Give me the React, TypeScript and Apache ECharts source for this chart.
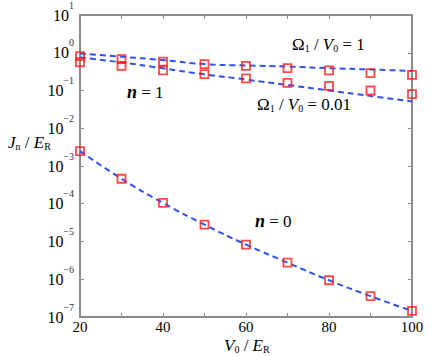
import React, { useEffect, useRef } from "react";
import * as echarts from "echarts";

const xValues = [20, 30, 40, 50, 60, 70, 80, 90, 100];
const ratio1Markers = [0.81, 0.68, 0.58, 0.5, 0.45, 0.39, 0.34, 0.29, 0.26];
const ratio1Fit = [0.96, 0.785, 0.64, 0.5, 0.46, 0.43, 0.39, 0.36, 0.33];
const ratio001Markers = [0.56, 0.45, 0.34, 0.27, 0.21, 0.16, 0.133, 0.1, 0.08];
const ratio001Fit = [0.75, 0.556, 0.386, 0.268, 0.195, 0.14, 0.1, 0.0716, 0.0514];
const n0Markers = [2.48e-3, 4.6e-4, 1.05e-4, 2.8e-5, 8.3e-6, 2.75e-6, 9.4e-7, 3.57e-7, 1.45e-7];
const n0Fit = [2.48e-3, 4.6e-4, 1.05e-4, 2.8e-5, 8.3e-6, 2.75e-6, 9.4e-7, 3.57e-7, 1.45e-7];

const SERIF = "'Times New Roman', 'Liberation Serif', serif";
const BLUE = "#2f52f0";
const RED = "#ff1a1a";
const AXIS = "#8c8c8c";

const pairs = (ys: number[]) => xValues.map((x, i) => [x, ys[i]]);

const fitSeries = (ys: number[]) => ({
  type: "line",
  data: pairs(ys),
  smooth: true,
  showSymbol: false,
  lineStyle: { color: BLUE, width: 2, type: [6, 4] },
  z: 2,
});

const markerSeries = (ys: number[]) => ({
  type: "scatter",
  data: pairs(ys),
  symbol: "rect",
  symbolSize: 8,
  itemStyle: { color: "transparent", borderColor: RED, borderWidth: 1.8 },
  z: 3,
});

const richText = {
  i: { fontFamily: SERIF, fontSize: 17, fontStyle: "italic", color: "#000" },
  bi: { fontFamily: SERIF, fontSize: 18, fontStyle: "italic", fontWeight: "bold", color: "#000" },
  r: { fontFamily: SERIF, fontSize: 17, color: "#000" },
  s: { fontFamily: SERIF, fontSize: 10, color: "#000", verticalAlign: "bottom", lineHeight: 10 },
};

const expLabel = (v: number) => {
  const e = Math.round(Math.log10(v));
  return `{b|10}{e|${String(e).replace("-", "\u2212")}}`;
};

export default function App() {
  const ref = useRef<HTMLDivElement>(null);
  useEffect(() => {
    if (!ref.current) return;
    const chart = echarts.init(ref.current, null, { renderer: "svg" });
    const logAxisBase = {
      type: "log",
      logBase: 10,
      min: 1e-7,
      max: 10,
      splitNumber: 8,
      axisLine: { show: true, lineStyle: { color: AXIS, width: 2 } },
      axisTick: { show: true, inside: true, length: 4, lineStyle: { color: AXIS } },
      splitLine: { show: false },
    };
    const valAxisBase = {
      type: "value",
      min: 20,
      max: 100,
      interval: 10,
      axisLine: { show: true, onZero: false, lineStyle: { color: AXIS, width: 2 } },
      axisTick: { show: true, inside: true, length: 4, lineStyle: { color: AXIS } },
      splitLine: { show: false },
    };
    chart.setOption({
      animation: false,
      backgroundColor: "#fff",
      textStyle: { fontFamily: SERIF },
      grid: { left: 80, right: 24, top: 13, bottom: 40, containLabel: false },
      xAxis: [
        {
          ...valAxisBase,
          position: "bottom",
          axisLabel: {
            margin: 2,
            color: "#000",
            fontFamily: SERIF,
            fontSize: 15,
            formatter: (v: number) => (v % 20 === 0 ? String(v) : ""),
          },
        },
        { ...valAxisBase, position: "top", axisLabel: { show: false } },
      ],
      yAxis: [
        {
          ...logAxisBase,
          position: "left",
          axisLabel: {
            margin: 6,
            formatter: expLabel,
            rich: {
              b: { fontFamily: SERIF, fontSize: 16, color: "#000", lineHeight: 30 },
              e: { fontFamily: SERIF, fontSize: 10, color: "#333", verticalAlign: "top", lineHeight: 12 },
            },
          },
        },
        { ...logAxisBase, position: "right", axisLabel: { show: false } },
      ],
      series: [
        fitSeries(ratio1Fit),
        fitSeries(ratio001Fit),
        fitSeries(n0Fit),
        markerSeries(ratio1Markers),
        markerSeries(ratio001Markers),
        markerSeries(n0Markers),
      ],
      graphic: [
        {
          type: "text",
          left: 8,
          top: 134,
          style: { text: "{i|J}{s|n}{r| / }{i|E}{s|R}", rich: richText },
        },
        {
          type: "text",
          left: 224,
          top: 337,
          style: { text: "{i|V}{s|0}{r| / }{i|E}{s|R}", rich: richText },
        },
        {
          type: "text",
          left: 292,
          top: 36,
          style: { text: "{r|\u03A9}{s|1}{r| / }{i|V}{s|0}{r| = 1}", rich: richText },
        },
        {
          type: "text",
          left: 257,
          top: 96,
          style: { text: "{r|\u03A9}{s|1}{r| / }{i|V}{s|0}{r| = 0.01}", rich: richText },
        },
        {
          type: "text",
          left: 127,
          top: 83,
          style: { text: "{bi|n}{r| = 1}", rich: richText },
        },
        {
          type: "text",
          left: 255,
          top: 212,
          style: { text: "{bi|n}{r| = 0}", rich: richText },
        },
      ],
    });
    return () => chart.dispose();
  }, []);
  return (
    <div
      ref={ref}
      style={{ position: "fixed", left: 0, top: 0, width: 436, height: 357 }}
    />
  );
}
